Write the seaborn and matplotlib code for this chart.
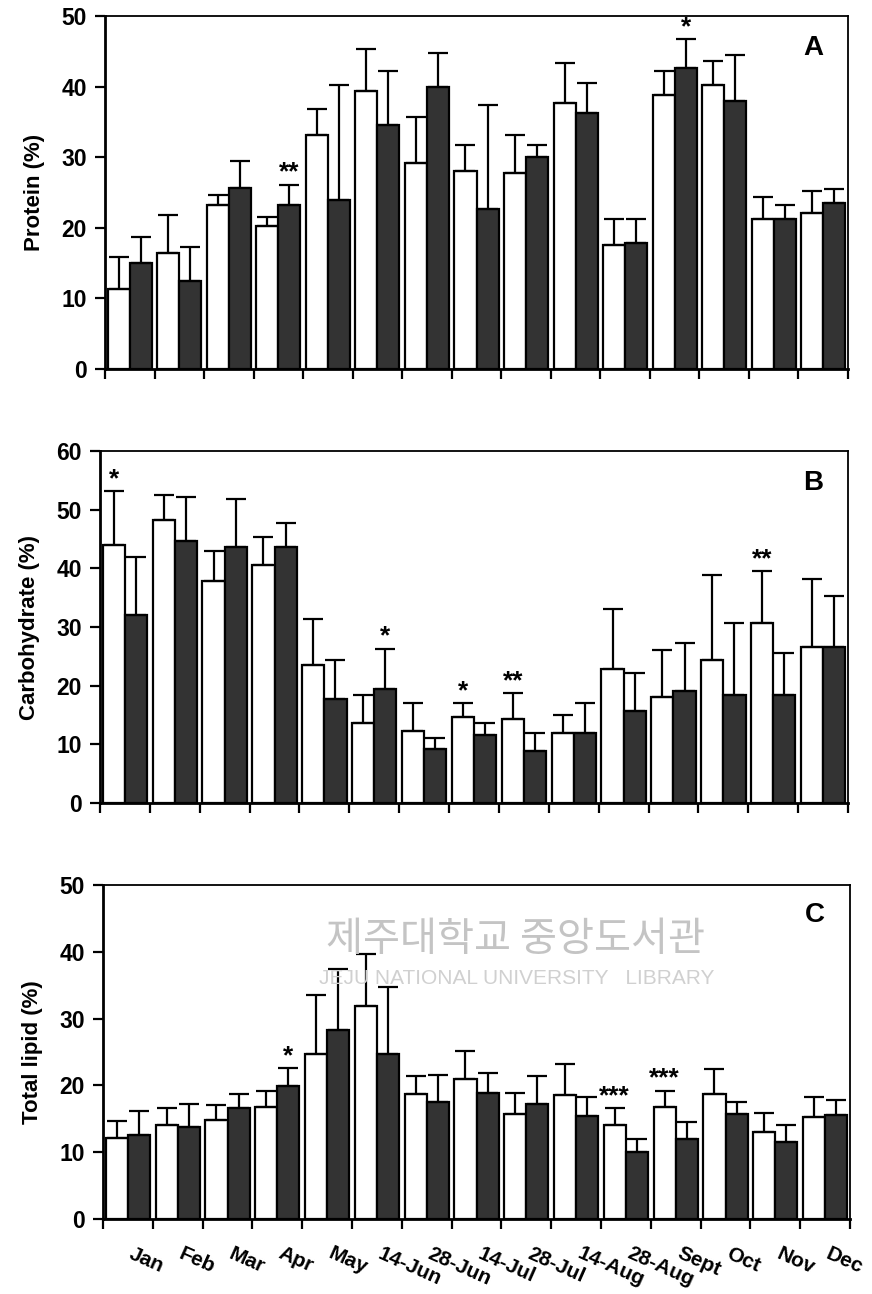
import numpy as np
import pandas as pd
import matplotlib
matplotlib.use("Agg")
import matplotlib.pyplot as plt
import seaborn as sns

months = ["Jan", "Feb", "Mar", "Apr", "May", "14-Jun", "28-Jun", "14-Jul",
          "28-Jul", "14-Aug", "28-Aug", "Sept", "Oct", "Nov", "Dec"]

protein_white = [11.3, 16.4, 23.2, 20.2, 33.2, 39.4, 29.2, 28.1, 27.8, 37.7, 17.5, 38.8, 40.2, 21.2, 22.1]
protein_white_err = [4.6, 5.4, 1.5, 1.3, 3.6, 5.9, 6.5, 3.6, 5.3, 5.7, 3.7, 3.4, 3.4, 3.2, 3.1]
protein_dark = [15.0, 12.5, 25.7, 23.2, 24.0, 34.5, 39.9, 22.6, 30.0, 36.2, 17.8, 42.7, 37.9, 21.2, 23.5]
protein_dark_err = [3.7, 4.8, 3.8, 2.9, 16.2, 7.7, 4.9, 14.8, 1.7, 4.3, 3.4, 4.0, 6.6, 2.0, 2.0]

carb_white = [44.0, 48.2, 37.8, 40.6, 23.6, 13.6, 12.3, 14.7, 14.3, 11.9, 22.9, 18.1, 24.3, 30.7, 26.6]
carb_white_err = [9.2, 4.3, 5.2, 4.7, 7.8, 4.8, 4.8, 2.3, 4.4, 3.1, 10.2, 7.9, 14.6, 8.8, 11.6]
carb_dark = [32.0, 44.7, 43.6, 43.6, 17.7, 19.4, 9.2, 11.6, 8.9, 11.9, 15.7, 19.1, 18.4, 18.4, 26.6]
carb_dark_err = [10.0, 7.5, 8.2, 4.1, 6.6, 6.9, 1.8, 2.0, 3.0, 5.1, 6.5, 8.2, 12.3, 7.2, 8.6]

lipid_white = [12.2, 14.0, 14.8, 16.7, 24.7, 31.9, 18.7, 21.0, 15.7, 18.5, 14.0, 16.7, 18.7, 13.0, 15.2]
lipid_white_err = [2.4, 2.6, 2.2, 2.4, 8.9, 7.8, 2.7, 4.2, 3.2, 4.7, 2.6, 2.5, 3.8, 2.9, 3.0]
lipid_dark = [12.6, 13.8, 16.6, 19.9, 28.3, 24.7, 17.5, 18.8, 17.2, 15.4, 10.0, 12.0, 15.7, 11.5, 15.6]
lipid_dark_err = [3.5, 3.4, 2.1, 2.7, 9.2, 10.0, 4.0, 3.0, 4.2, 2.8, 2.0, 2.5, 1.8, 2.5, 2.2]

# significance marks: (group index, bar (0 white / 1 dark), text)
protein_sig = [(3, 1, "**"), (11, 1, "*")]
carb_sig = [(0, 0, "*"), (5, 1, "*"), (7, 0, "*"), (8, 0, "**"), (13, 0, "**")]
lipid_sig = [(3, 1, "*"), (10, 0, "***"), (11, 0, "***")]

sns.set_style("ticks")
plt.rcParams["font.family"] = ["Liberation Sans", "DejaVu Sans"]
plt.rcParams["font.weight"] = "bold"
for key in ["text.color", "axes.labelcolor", "xtick.color", "ytick.color", "axes.edgecolor"]:
    plt.rcParams[key] = "black"

W, H = 872, 1294
fig = plt.figure(figsize=(W / 100, H / 100), dpi=100)

panels = [
    dict(white=protein_white, werr=protein_white_err, dark=protein_dark, derr=protein_dark_err,
         sig=protein_sig, ylabel="Protein (%)", ymax=50, letter="A",
         box=(105, 848, 16, 369), labels=False),
    dict(white=carb_white, werr=carb_white_err, dark=carb_dark, derr=carb_dark_err,
         sig=carb_sig, ylabel="Carbohydrate (%)", ymax=60, letter="B",
         box=(100, 848, 451, 803), labels=False),
    dict(white=lipid_white, werr=lipid_white_err, dark=lipid_dark, derr=lipid_dark_err,
         sig=lipid_sig, ylabel="Total lipid (%)", ymax=50, letter="C",
         box=(103, 850, 885, 1219), labels=True),
]

for p in panels:
    l, r, t, b = p["box"]
    ax = fig.add_axes([l / W, 1 - b / H, (r - l) / W, (b - t) / H])
    df = pd.DataFrame({
        "month": months * 2,
        "value": list(p["white"]) + list(p["dark"]),
        "group": ["w"] * len(months) + ["d"] * len(months),
    })
    sns.barplot(data=df, x="month", y="value", hue="group", order=months,
                hue_order=["w", "d"], palette=["white", "#333333"],
                edgecolor="black", linewidth=1.6, errorbar=None, width=0.89,
                saturation=1, legend=False, ax=ax)
    errs = [p["werr"], p["derr"]]
    tops = {}
    for k, cont in enumerate(ax.containers[:2]):
        for i, bar in enumerate(cont.patches):
            xc = bar.get_x() + bar.get_width() / 2
            h = bar.get_height()
            ax.errorbar([xc], [h], yerr=[[0], [errs[k][i]]], fmt="none",
                        ecolor="black", elinewidth=1.6, capsize=7.5, capthick=1.6,
                        zorder=1)
            tops[(i, k)] = (xc, h + errs[k][i])
    for (i, k, s) in p["sig"]:
        xc, yt = tops[(i, k)]
        ax.annotate(s, xy=(xc, yt), xytext=(0, 0), textcoords="offset points",
                    ha="center", va="bottom", fontsize=19, fontweight="bold")

    ax.set_xlim(-0.5, len(months) - 0.5)
    ax.set_ylim(0, p["ymax"])
    ax.set_yticks(np.arange(0, p["ymax"] + 1, 10))
    ax.set_xticks(np.arange(-0.5, len(months), 1.0))
    ax.set_xticklabels([])
    if p["labels"]:
        ax.set_xticks(np.arange(len(months)) + 0.12, minor=True)
        ax.set_xticklabels(months, minor=True, rotation=-24, ha="left", va="top",
                           rotation_mode="anchor", fontsize=15, fontweight="bold")
        ax.tick_params(axis="x", which="minor", length=0, pad=18)
    ax.tick_params(axis="both", which="major", direction="out", length=7, width=1.6,
                   labelsize=16.5, pad=6)
    for lab in ax.get_yticklabels():
        lab.set_fontweight("bold")
    ax.set_xlabel("")
    ax.set_ylabel(p["ylabel"], fontsize=16, fontweight="bold", labelpad=12)
    for side in ["left", "bottom"]:
        ax.spines[side].set_linewidth(2.0)
    for side in ["top", "right"]:
        ax.spines[side].set_linewidth(1.3)
        ax.spines[side].set_visible(True)
    ax.text(0.967, 0.91, p["letter"], transform=ax.transAxes, ha="right", va="center",
            fontsize=20, fontweight="bold")

# library watermark
fig.text(515 / W, 1 - 940 / H, "제주대학교 중앙도서관", ha="center", va="center",
         fontsize=29, color="#c4c4c4", family=["Noto Sans CJK KR", "DejaVu Sans"],
         fontweight="medium", zorder=0)
fig.text(517 / W, 1 - 979 / H, "JEJU NATIONAL UNIVERSITY   LIBRARY", ha="center",
         va="center", fontsize=15, color="#d0d0d0", family=["Liberation Sans", "DejaVu Sans"],
         fontweight="normal", zorder=0)

fig.savefig("out.png", dpi=100)
